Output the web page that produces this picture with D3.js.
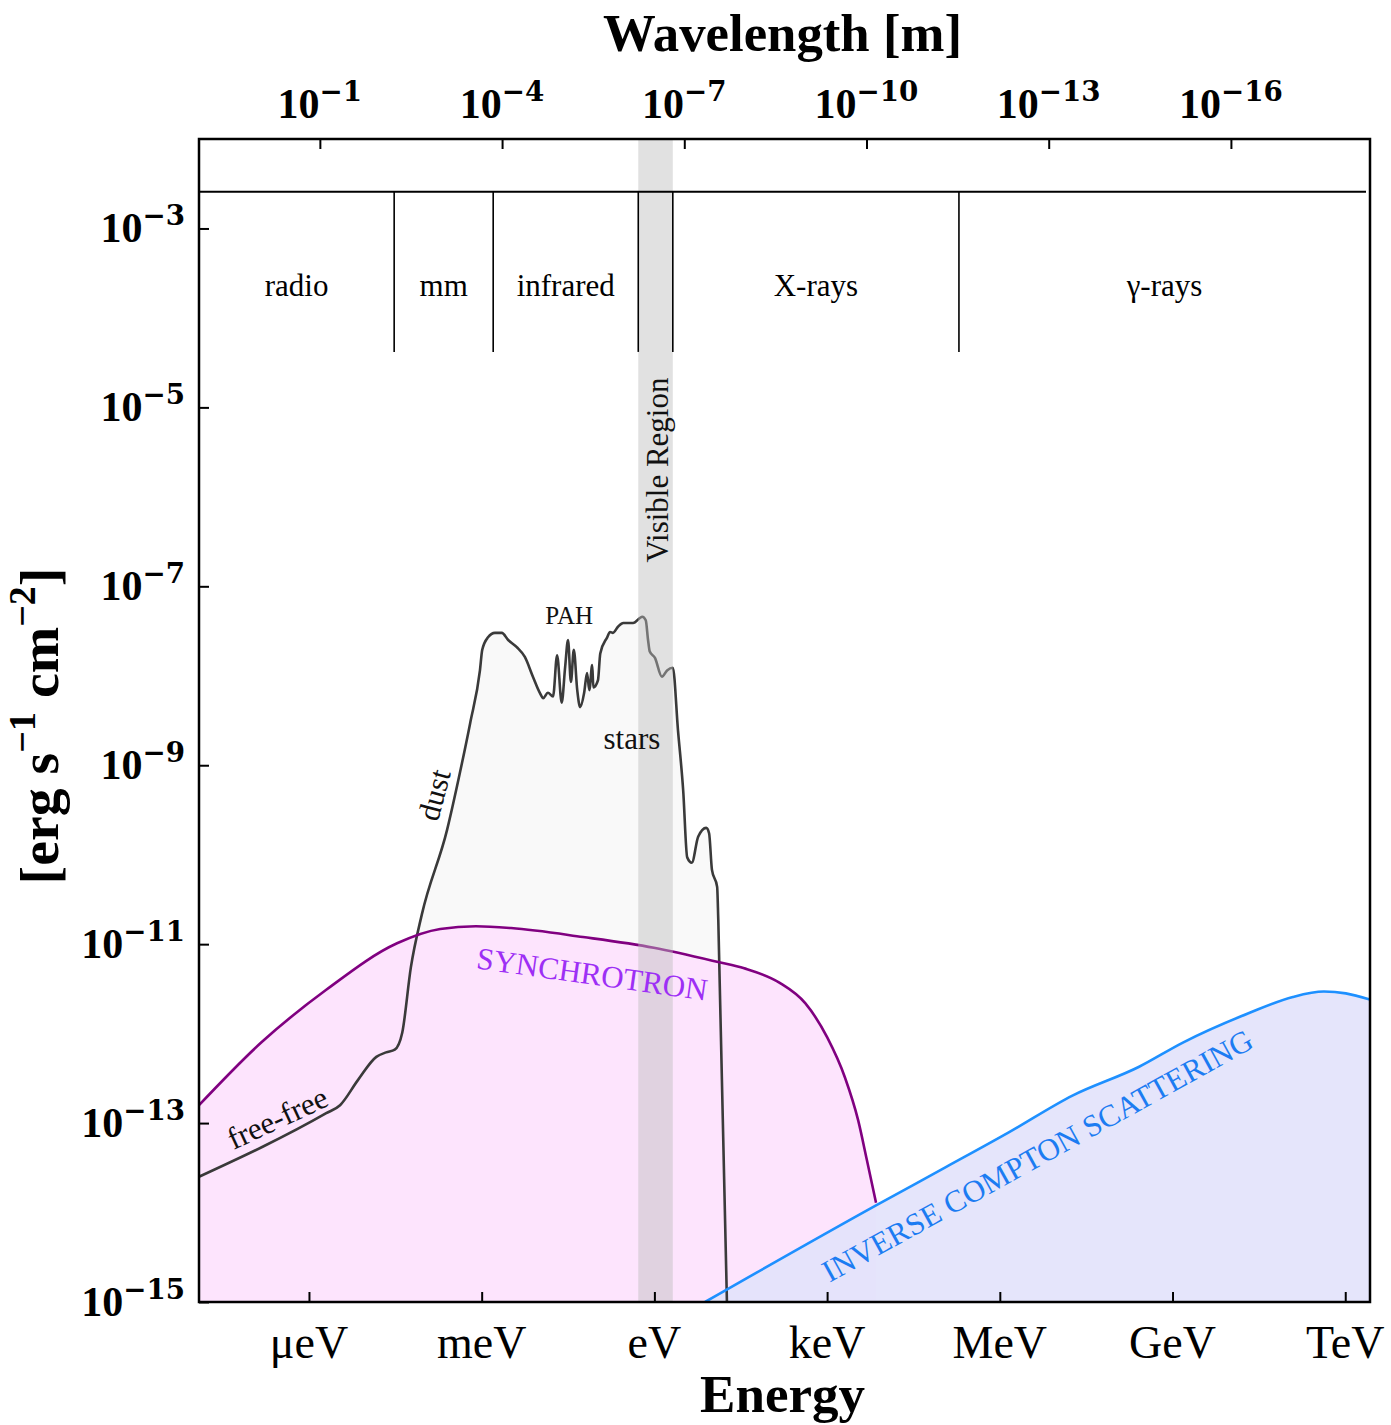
<!DOCTYPE html>
<html>
<head>
<meta charset="utf-8">
<script src="https://cdn.jsdelivr.net/npm/d3@7"></script>
<style>
body { margin: 0; background: #fff; }
svg { display: block; }
</style>
</head>
<body>
<div id="chart"></div>
<script>
// ---- data (log10 values) ----
const energyTicks = [-6, -3, 0, 3, 6, 9, 12];           // log10 eV
const energyNames = ["μeV", "meV", "eV", "keV", "MeV", "GeV", "TeV"];
const waveTicks = [-1, -4, -7, -10, -13, -16];          // log10 m
const fluxTicks = [-3, -5, -7, -9, -11, -13, -15];      // log10 erg/s/cm2

const regionNames = ["radio", "mm", "infrared", "X-rays", "γ-rays"];
const regionEdges = [-4.52, -2.80, -0.28, 0.32, 5.29];  // log10 eV
const visibleBand = [-0.28, 0.32];

const synchLogE = [-7.91, -6.83, -5.70, -4.47, -3.72, -3.10, -2.49, -1.24, -0.01, 1.11, 1.56, 2.17, 2.62, 3.00, 3.31, 3.54, 3.69, 3.85];
const synchLogF = [-12.80, -12.10, -11.51, -10.99, -10.83, -10.80, -10.82, -10.92, -11.04, -11.20, -11.27, -11.43, -11.66, -12.04, -12.49, -12.97, -13.41, -13.89];

const icLogE = [0.88, 3.85, 5.07, 6.14, 7.27, 8.42, 9.18, 10.33, 11.09, 11.63, 12.01, 12.43];
const icLogF = [-15, -13.92, -13.49, -13.11, -12.69, -12.37, -12.10, -11.77, -11.59, -11.53, -11.55, -11.62];

const dustLogE = [-7.91, -5.70, -5.46, -5.15, -4.83, -4.66, -4.51, -4.38, -4.23, -4.04, -3.60, -3.38, -3.20, -3.03, -2.99, -2.89, -2.77, -2.65, -2.54, -2.39, -2.25, -2.11, -1.99, -1.93, -1.85, -1.76, -1.69, -1.61, -1.55, -1.50, -1.45, -1.40, -1.34, -1.29, -1.22, -1.17, -1.13, -1.08, -1.06, -0.98, -0.94, -0.82, -0.77, -0.72, -0.63, -0.54, -0.37, -0.21, -0.15, -0.11, -0.08, 0.01, 0.13, 0.22, 0.32, 0.41, 0.50, 0.57, 0.65, 0.76, 0.90, 0.95, 1.00, 1.09, 1.11, 1.26];
const dustLogF = [-13.60, -12.89, -12.80, -12.52, -12.26, -12.21, -12.18, -11.99, -11.26, -10.67, -9.72, -9.09, -8.53, -7.94, -7.71, -7.57, -7.52, -7.52, -7.60, -7.68, -7.79, -8.01, -8.19, -8.25, -8.19, -8.23, -7.77, -8.30, -7.90, -7.60, -8.07, -7.71, -8.16, -8.35, -8.19, -7.97, -8.16, -7.88, -8.13, -8.05, -7.75, -7.57, -7.51, -7.52, -7.45, -7.41, -7.41, -7.34, -7.38, -7.60, -7.73, -7.80, -8.01, -7.94, -7.91, -8.61, -9.28, -10.03, -10.09, -9.80, -9.70, -9.76, -10.17, -10.36, -10.73, -15];

const labels = [
  {text: "free-free", e: -6.55, f: -12.94, rot: -25, color: "#111"},
  {text: "dust", e: -3.83, f: -9.33, rot: -75, color: "#111"},
  {text: "PAH", e: -1.48, f: -7.32, rot: 0, color: "#111", size: 25},
  {text: "stars", e: -0.39, f: -8.70, rot: 0, color: "#111"},
  {text: "Visible Region", e: 0.05, f: -5.70, rot: -90, color: "#111"},
  {text: "SYNCHROTRON", e: -1.08, f: -11.33, rot: 8, color: "#9d2ff5"},
  {text: "INVERSE COMPTON SCATTERING", e: 6.65, f: -13.36, rot: -29, color: "#1c7cf2"}
];

// ---- layout ----
const W = 1391, H = 1425;
const margin = {top: 139, right: 21, bottom: 123, left: 199};
const x0 = margin.left, x1 = W - margin.right;
const y0 = H - margin.bottom, y1 = margin.top;

const x = d3.scaleLog().domain([10 ** -7.91, 10 ** 12.43]).range([x0, x1]);
const xTop = d3.scaleLog().domain([10 ** 0.99, 10 ** -18.29]).range([x0, x1]);
const y = d3.scaleLog().domain([1e-15, 1e-2]).range([y0, y1]);

const serif = "'Liberation Serif', 'Times New Roman', serif";

const svg = d3.select("#chart").append("svg")
  .attr("width", W).attr("height", H)
  .style("font-family", serif);

svg.append("defs").append("clipPath").attr("id", "plot")
  .append("rect").attr("x", x0).attr("y", y1).attr("width", x1 - x0).attr("height", y0 - y1);

const plot = svg.append("g").attr("clip-path", "url(#plot)");

const pts = (es, fs) => es.map((e, i) => [10 ** e, 10 ** fs[i]]);
const area = d3.area().x(d => x(d[0])).y0(y0).y1(d => y(d[1])).curve(d3.curveMonotoneX);
const line = d3.line().x(d => x(d[0])).y(d => y(d[1])).curve(d3.curveMonotoneX);

const dust = pts(dustLogE, dustLogF);
const synch = pts(synchLogE, synchLogF);
const ic = pts(icLogE, icLogF);

// fills
plot.append("path").attr("d", area(dust)).attr("fill", "#f9f9f9");
plot.append("path").attr("d", area(synch)).attr("fill", "#fde4fd");
plot.append("path").attr("d", area(ic)).attr("fill", "#e3e3fb").attr("fill-opacity", 0.92);

// lines
plot.append("path").attr("d", line(dust)).attr("fill", "none").attr("stroke", "#3a3a3a").attr("stroke-width", 2.6);
plot.append("path").attr("d", line(synch)).attr("fill", "none").attr("stroke", "#800080").attr("stroke-width", 2.6);
plot.append("path").attr("d", line(ic)).attr("fill", "none").attr("stroke", "#1e90ff").attr("stroke-width", 2.6);

// visible band
plot.append("rect")
  .attr("x", x(10 ** visibleBand[0])).attr("width", x(10 ** visibleBand[1]) - x(10 ** visibleBand[0]))
  .attr("y", y1).attr("height", y0 - y1)
  .attr("fill", "#bdbdbd").attr("fill-opacity", 0.45);

// spectral regions
const bandTop = y(10 ** -2.59), bandBot = y(10 ** -4.38);
svg.append("line").attr("x1", x0).attr("x2", x1 - 4).attr("y1", bandTop).attr("y2", bandTop)
  .attr("stroke", "#000").attr("stroke-width", 2);
svg.selectAll(".edge").data(regionEdges).join("line")
  .attr("x1", d => x(10 ** d)).attr("x2", d => x(10 ** d))
  .attr("y1", bandTop).attr("y2", bandBot)
  .attr("stroke", "#000").attr("stroke-width", 1.6);

const lo = Math.log10(x.domain()[0]), hi = Math.log10(x.domain()[1]);
const spans = [[lo, regionEdges[0]], [regionEdges[0], regionEdges[1]], [regionEdges[1], regionEdges[2]],
               [regionEdges[3], regionEdges[4]], [regionEdges[4], hi]];
svg.selectAll(".region").data(regionNames).join("text")
  .attr("x", (d, i) => x(10 ** ((spans[i][0] + spans[i][1]) / 2)))
  .attr("y", y(10 ** -3.63))
  .attr("text-anchor", "middle").attr("dy", "0.35em")
  .attr("font-size", 31).text(d => d);

// frame
svg.append("rect").attr("x", x0).attr("y", y1).attr("width", x1 - x0).attr("height", y0 - y1)
  .attr("fill", "none").attr("stroke", "#000").attr("stroke-width", 2.5);

// axes (ticks pointing inward)
const noDomain = g => g.select(".domain").remove();
svg.append("g").attr("transform", `translate(${x0},0)`)
  .call(d3.axisLeft(y).tickValues(fluxTicks.map(e => 10 ** e)).tickSize(-10).tickFormat(""))
  .call(noDomain)
  .call(g => g.selectAll(".tick line").attr("stroke-width", 2));

svg.append("g").attr("transform", `translate(0,${y0})`)
  .call(d3.axisBottom(x).tickValues(energyTicks.map(e => 10 ** e)).tickSize(-10).tickFormat(""))
  .call(noDomain)
  .call(g => g.selectAll(".tick line").attr("stroke-width", 2));

svg.append("g").attr("transform", `translate(0,${y1})`)
  .call(d3.axisTop(xTop).tickValues(waveTicks.map(e => 10 ** e)).tickSize(-10).tickFormat(""))
  .call(noDomain)
  .call(g => g.selectAll(".tick line").attr("stroke-width", 2));

// power-of-ten labels
function pow10(sel, exp) {
  sel.append("tspan").text("10");
  sel.append("tspan").attr("dy", "-0.62em").attr("font-size", "0.66em")
    .attr("font-family", "'DejaVu Serif', serif").text("−" + Math.abs(exp));
}
const tickFont = 42;

svg.selectAll(".ylab").data(fluxTicks).join("text")
  .attr("x", x0 - 14).attr("y", d => y(10 ** d) + 14)
  .attr("text-anchor", "end").attr("font-size", tickFont).attr("font-weight", "bold")
  .each(function(d) { pow10(d3.select(this), d); });

svg.selectAll(".toplab").data(waveTicks).join("text")
  .attr("x", d => xTop(10 ** d)).attr("y", y1 - 21)
  .attr("text-anchor", "middle").attr("font-size", tickFont).attr("font-weight", "bold")
  .each(function(d) { pow10(d3.select(this), d); });

svg.selectAll(".elab").data(energyTicks).join("text")
  .attr("x", d => x(10 ** d)).attr("y", y0 + 56)
  .attr("text-anchor", "middle").attr("font-size", 46)
  .text((d, i) => energyNames[i]);

// titles
function fitWidth(t, target) {
  const len = t.node().getComputedTextLength();
  t.attr("font-size", parseFloat(t.attr("font-size")) * target / len);
}
const cx = (x0 + x1) / 2 - 2;
fitWidth(svg.append("text").attr("x", cx).attr("y", 51).attr("text-anchor", "middle")
  .attr("font-size", 50).attr("font-weight", "bold").text("Wavelength [m]"), 359);
fitWidth(svg.append("text").attr("x", cx).attr("y", 1412).attr("text-anchor", "middle")
  .attr("font-size", 50).attr("font-weight", "bold").text("Energy"), 165);

const yt = svg.append("text")
  .attr("transform", `translate(58,726) rotate(-90)`)
  .attr("text-anchor", "middle").attr("font-size", 50).attr("font-weight", "bold");
yt.append("tspan").text("[erg s");
yt.append("tspan").attr("dy", "-0.6em").attr("font-size", "0.68em").text("−1");
yt.append("tspan").attr("dy", "0.408em").text(" cm");
yt.append("tspan").attr("dy", "-0.6em").attr("font-size", "0.68em").text("−2");
yt.append("tspan").attr("dy", "0.408em").text("]");
fitWidth(yt, 317);

// annotations
svg.selectAll(".anno").data(labels).join("text")
  .attr("transform", d => `translate(${x(10 ** d.e)},${y(10 ** d.f)}) rotate(${d.rot})`)
  .attr("text-anchor", "middle").attr("dy", "0.35em")
  .attr("font-size", d => d.size || 31)
  .attr("fill", d => d.color)
  .text(d => d.text);
</script>
</body>
</html>
